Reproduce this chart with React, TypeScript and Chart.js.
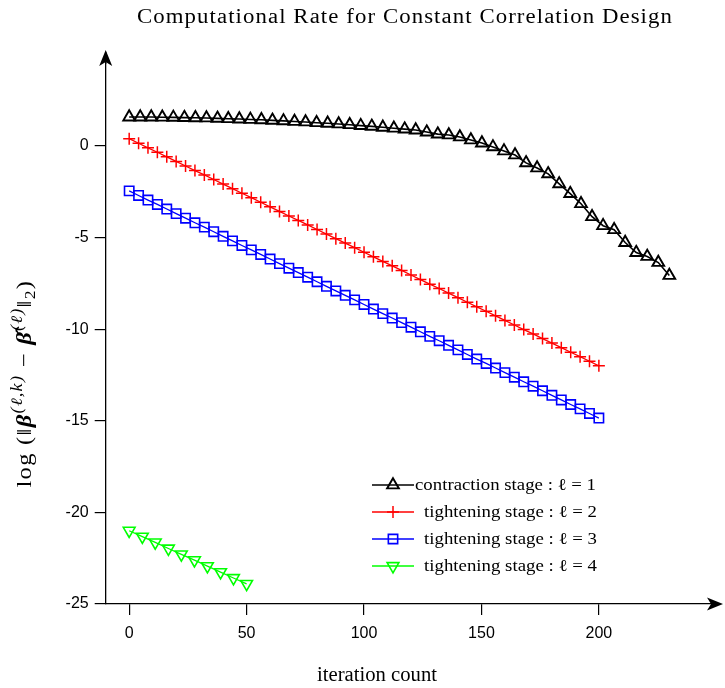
import React, { useEffect, useRef } from "react";
import { Chart, registerables } from "chart.js";

Chart.register(...registerables);

// ---------------- data ----------------
const xTickValues = [0, 50, 100, 150, 200];
const yTickValues = [-25, -20, -15, -10, -5, 0];

const chartTitle = "Computational Rate for Constant Correlation Design";
const xAxisTitle = "iteration count";

const seriesLabels = [
  "contraction stage : ℓ = 1",
  "tightening stage : ℓ = 2",
  "tightening stage : ℓ = 3",
  "tightening stage : ℓ = 4",
];

// stage 1 (contraction)
const stage1Iter = [
  0, 4.7, 9.4, 14.1, 18.8, 23.5, 28.2, 32.9, 37.6, 42.2, 46.9, 51.6, 56.3, 61.0, 65.7, 70.4, 75.1,
  79.8, 84.5, 89.2, 93.9, 98.6, 103.3, 108.0, 112.7, 117.3, 122.0, 126.7, 131.4, 136.1, 140.8,
  145.5, 150.2, 154.9, 159.6, 164.3, 169.0, 173.7, 178.4, 183.1, 187.8, 192.4, 197.1, 201.8,
  206.5, 211.2, 215.9, 220.6, 225.3, 230,
];
const stage1Err = [
  1.58, 1.58, 1.58, 1.57, 1.56, 1.55, 1.54, 1.53, 1.51, 1.49, 1.47, 1.45, 1.43, 1.4, 1.37, 1.34,
  1.31, 1.27, 1.24, 1.2, 1.16, 1.11, 1.07, 1.02, 0.97, 0.92, 0.87, 0.76, 0.65, 0.6, 0.49, 0.33,
  0.16, -0.05, -0.27, -0.49, -0.92, -1.2, -1.52, -2.07, -2.6, -3.15, -3.86, -4.35, -4.57, -5.27,
  -5.82, -6.03, -6.36, -7.07,
];

// stages 2 and 3 (tightening)
const stage23Iter = [
  0, 4, 8, 12, 16, 20, 24, 28, 32, 36, 40, 44, 48, 52, 56, 60, 64, 68, 72, 76, 80, 84, 88, 92, 96,
  100, 104, 108, 112, 116, 120, 124, 128, 132, 136, 140, 144, 148, 152, 156, 160, 164, 168, 172,
  176, 180, 184, 188, 192, 196, 200,
];
const stage2Err = [
  0.4, 0.15, -0.1, -0.34, -0.59, -0.84, -1.09, -1.34, -1.58, -1.83, -2.08, -2.33, -2.58, -2.82,
  -3.07, -3.32, -3.57, -3.82, -4.06, -4.31, -4.56, -4.81, -5.06, -5.3, -5.55, -5.8, -6.05, -6.3,
  -6.54, -6.79, -7.04, -7.29, -7.54, -7.78, -8.03, -8.28, -8.53, -8.78, -9.02, -9.27, -9.52,
  -9.77, -10.02, -10.26, -10.51, -10.76, -11.01, -11.26, -11.5, -11.75, -12.0,
];
const stage3Err = [
  -2.45, -2.7, -2.95, -3.19, -3.44, -3.69, -3.94, -4.19, -4.43, -4.68, -4.93, -5.18, -5.43,
  -5.67, -5.92, -6.17, -6.42, -6.67, -6.91, -7.16, -7.41, -7.66, -7.91, -8.15, -8.4, -8.65,
  -8.9, -9.15, -9.39, -9.64, -9.89, -10.14, -10.39, -10.63, -10.88, -11.13, -11.38, -11.63,
  -11.87, -12.12, -12.37, -12.62, -12.87, -13.11, -13.36, -13.61, -13.86, -14.11, -14.35, -14.6,
  -14.85,
];

// stage 4 (tightening)
const stage4Iter = [0, 5.6, 11.1, 16.7, 22.2, 27.8, 33.3, 38.9, 44.4, 50];
const stage4Err = [-21.0, -21.32, -21.64, -21.97, -22.29, -22.61, -22.93, -23.26, -23.58, -23.9];

const seriesColors = ["#000000", "#ff0000", "#0000ff", "#00ff00"];

// ---------------- styling helpers ----------------
const SERIF = '"Liberation Serif", "DejaVu Serif", serif';
const SANS = '"Liberation Sans", Arial, sans-serif';
const MAX_STRETCH = 1.14;

type Marker = { style: string; r: number; rot: number; lw: number };
const markers: Marker[] = [
  { style: "triangle", r: 6.8, rot: 0, lw: 1.9 },
  { style: "cross", r: 6, rot: 0, lw: 1.5 },
  { style: "rect", r: 6.6, rot: 0, lw: 1.6 },
  { style: "triangle", r: 6.8, rot: 180, lw: 1.6 },
];

function drawMarker(ctx: CanvasRenderingContext2D, m: Marker, color: string, x: number, y: number) {
  ctx.save();
  ctx.strokeStyle = color;
  ctx.lineWidth = m.lw;
  ctx.beginPath();
  if (m.style === "triangle") {
    let rad = (m.rot * Math.PI) / 180;
    for (let i = 0; i < 3; i++) {
      const px = x + Math.sin(rad) * m.r;
      const py = y - Math.cos(rad) * m.r;
      if (i === 0) ctx.moveTo(px, py);
      else ctx.lineTo(px, py);
      rad += (2 * Math.PI) / 3;
    }
    ctx.closePath();
  } else if (m.style === "cross") {
    ctx.moveTo(x - m.r, y);
    ctx.lineTo(x + m.r, y);
    ctx.moveTo(x, y - m.r);
    ctx.lineTo(x, y + m.r);
  } else if (m.style === "rect") {
    const s = Math.SQRT1_2 * m.r;
    ctx.rect(x - s, y - s, 2 * s, 2 * s);
  }
  ctx.stroke();
  ctx.restore();
}

type Part = { t: string; k: "n" | "b" | "sup" | "sub" };

function partFont(k: Part["k"], size: number) {
  if (k === "b") return `italic bold ${size}px ${SERIF}`;
  if (k === "sup") return `italic ${size * 0.74}px ${SERIF}`;
  if (k === "sub") return `${size * 0.72}px ${SERIF}`;
  return `${size}px ${SERIF}`;
}

// Draws a run of text parts so that it spans `target` px: slight horizontal stretch, then letter spacing.
function drawRun(
  ctx: CanvasRenderingContext2D,
  parts: Part[],
  size: number,
  target: number,
  x: number,
  y: number,
  align: "left" | "center"
) {
  const c: any = ctx;
  c.letterSpacing = "0px";
  let raw = 0;
  let n = 0;
  for (const p of parts) {
    ctx.font = partFont(p.k, size);
    raw += ctx.measureText(p.t).width;
    n += Array.from(p.t).length;
  }
  const sx = Math.min(MAX_STRETCH, target / raw);
  const spacing = (target / sx - raw) / n;
  ctx.save();
  ctx.translate(align === "center" ? x - target / 2 : x, y);
  ctx.scale(sx, 1);
  ctx.textAlign = "left";
  ctx.textBaseline = "alphabetic";
  c.letterSpacing = `${spacing}px`;
  let cx = 0;
  for (const p of parts) {
    ctx.font = partFont(p.k, size);
    let dy = 0;
    if (p.k === "sup") dy = -size * 0.42;
    if (p.k === "sub") dy = size * 0.2;
    ctx.fillText(p.t, cx, dy);
    cx += ctx.measureText(p.t).width;
  }
  c.letterSpacing = "0px";
  ctx.restore();
}

const yLabelParts: Part[] = [
  { t: "log (‖", k: "n" },
  { t: "β", k: "b" },
  { t: "(ℓ,k)", k: "sup" },
  { t: " − ", k: "n" },
  { t: "β̂", k: "b" },
  { t: "(ℓ)", k: "sup" },
  { t: "‖", k: "n" },
  { t: "2", k: "sub" },
  { t: ")", k: "n" },
];

const overlayPlugin = {
  id: "overlay",
  afterDraw(chart: any) {
    const ctx: CanvasRenderingContext2D = chart.ctx;
    const { left, right, bottom } = chart.chartArea;
    ctx.save();

    // axis arrows
    ctx.fillStyle = "#000";
    ctx.strokeStyle = "#000";
    ctx.lineWidth = 1.3;
    ctx.beginPath();
    ctx.moveTo(left, 64);
    ctx.lineTo(left, 52);
    ctx.stroke();
    ctx.beginPath();
    ctx.moveTo(left, 50);
    ctx.lineTo(left - 6.5, 66);
    ctx.lineTo(left, 62);
    ctx.lineTo(left + 6.5, 66);
    ctx.closePath();
    ctx.fill();

    ctx.beginPath();
    ctx.moveTo(right, bottom);
    ctx.lineTo(718, bottom);
    ctx.stroke();
    ctx.beginPath();
    ctx.moveTo(723, bottom);
    ctx.lineTo(707, bottom - 6.5);
    ctx.lineTo(711, bottom);
    ctx.lineTo(707, bottom + 6.5);
    ctx.closePath();
    ctx.fill();

    ctx.fillStyle = "#000";

    // title
    drawRun(ctx, [{ t: chartTitle, k: "n" }], 20, 536, 405, 23, "center");

    // x axis title
    drawRun(ctx, [{ t: xAxisTitle, k: "n" }], 20, 120, 377, 681, "center");

    // y axis title (rotated)
    ctx.save();
    ctx.translate(31, 383);
    ctx.rotate(-Math.PI / 2);
    drawRun(ctx, yLabelParts, 21.5, 209, 0, 0, "center");
    ctx.restore();

    // legend
    const rowsY = [485, 512, 539, 566];
    const textX = [415, 424, 424, 424];
    const textW = [181, 173, 173, 173];
    seriesLabels.forEach((lab, i) => {
      const y = rowsY[i];
      ctx.strokeStyle = seriesColors[i];
      ctx.lineWidth = i === 0 ? 1.6 : 1.4;
      ctx.beginPath();
      ctx.moveTo(372, y);
      ctx.lineTo(414, y);
      ctx.stroke();
      drawMarker(ctx, markers[i], seriesColors[i], 393, y);
      ctx.fillStyle = "#000";
      drawRun(ctx, [{ t: lab, k: "n" }], 16.5, textW[i], textX[i], y + 4.5, "left");
    });

    ctx.restore();
  },
};

function makeDataset(xs: number[], ys: number[], i: number, lw: number) {
  const m = markers[i];
  return {
    label: seriesLabels[i],
    data: xs.map((x, j) => ({ x, y: ys[j] })),
    borderColor: seriesColors[i],
    borderWidth: lw,
    pointStyle: m.style,
    pointRotation: m.rot,
    pointRadius: m.r,
    pointBorderWidth: m.lw,
    pointBorderColor: seriesColors[i],
    pointBackgroundColor: "rgba(0,0,0,0)",
    pointHoverRadius: m.r,
    tension: 0,
    fill: false,
  };
}

export default function App() {
  const ref = useRef<HTMLCanvasElement | null>(null);

  useEffect(() => {
    document.body.style.margin = "0";
    const canvas = ref.current;
    if (!canvas) return;
    const chart = new Chart(canvas, {
      type: "line",
      data: {
        datasets: [
          makeDataset(stage1Iter, stage1Err, 0, 1.6),
          makeDataset(stage23Iter, stage2Err, 1, 1.3),
          makeDataset(stage23Iter, stage3Err, 2, 1.3),
          makeDataset(stage4Iter, stage4Err, 3, 1.3),
        ] as any,
      },
      options: {
        animation: false,
        responsive: false,
        maintainAspectRatio: false,
        layout: { padding: { left: 0, right: 5.7, top: 54.4, bottom: 0 } },
        plugins: {
          legend: { display: false },
          tooltip: { enabled: false },
          title: { display: false },
        },
        scales: {
          x: {
            type: "linear",
            min: -10,
            max: 250,
            afterBuildTicks: (sc: any) => {
              sc.ticks = xTickValues.map((v) => ({ value: v }));
            },
            afterFit: (sc: any) => {
              sc.height = 84;
            },
            grid: {
              display: true,
              drawOnChartArea: false,
              drawTicks: true,
              tickLength: 11,
              color: "#000",
              lineWidth: 1.2,
            },
            border: { display: true, color: "#000", width: 1.3 },
            ticks: {
              color: "#000",
              font: { family: SANS, size: 16 },
              padding: 9,
              maxRotation: 0,
              autoSkip: false,
              callback: (v: any) => String(v),
            },
          },
          y: {
            type: "linear",
            min: -25,
            max: 5,
            afterBuildTicks: (sc: any) => {
              sc.ticks = yTickValues.map((v) => ({ value: v }));
            },
            afterFit: (sc: any) => {
              sc.width = 105.7;
            },
            grid: {
              display: true,
              drawOnChartArea: false,
              drawTicks: true,
              tickLength: 11,
              color: "#000",
              lineWidth: 1.2,
            },
            border: { display: true, color: "#000", width: 1.3 },
            ticks: {
              color: "#000",
              font: { family: SANS, size: 16 },
              padding: 6,
              autoSkip: false,
              callback: (v: any) => String(v),
            },
          },
        },
      } as any,
      plugins: [overlayPlugin],
    });
    return () => chart.destroy();
  }, []);

  return (
    <div style={{ width: 725, height: 688 }}>
      <canvas ref={ref} width={725} height={688} style={{ display: "block" }} />
    </div>
  );
}
